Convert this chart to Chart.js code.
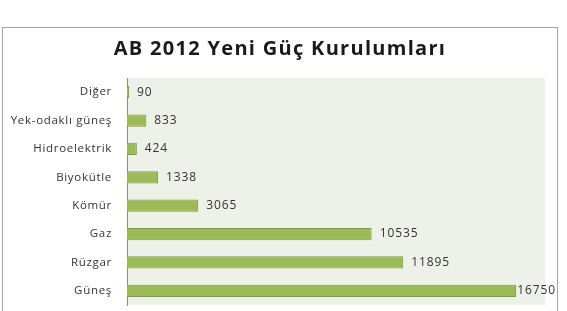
<!DOCTYPE html>
<html>
<head>
<meta charset="utf-8">
<script src="https://cdn.jsdelivr.net/npm/chart.js@4/dist/chart.umd.min.js"></script>
<style>
  html, body { margin: 0; padding: 0; background: #fff; }
  canvas { display: block; }
</style>
</head>
<body>
<canvas id="grafico" width="567" height="311"></canvas>
<script>
// dati
var categorie = ['Diğer', 'Yek-odaklı güneş', 'Hidroelektrik', 'Biyokütle', 'Kömür', 'Gaz', 'Rüzgar', 'Güneş'];
var valori = [90, 833, 424, 1338, 3065, 10535, 11895, 16750];
var titolo = 'AB 2012 Yeni Güç Kurulumları';
var massimo = 18000;

// cornice, sfondo e titolo
var sfondo = {
  id: 'sfondo',
  beforeDraw: function (chart) {
    var ctx = chart.ctx, a = chart.chartArea;
    ctx.save();
    ctx.fillStyle = '#ffffff';
    ctx.fillRect(0, 0, chart.width, chart.height);
    ctx.strokeStyle = '#a6a6a6';
    ctx.lineWidth = 1;
    ctx.strokeRect(2.5, 27.5, 555, 300);
    ctx.fillStyle = '#eef1e7';
    ctx.fillRect(a.left, a.top, a.right - a.left, a.bottom - a.top);
    ctx.fillStyle = '#1a1a1a';
    ctx.font = 'bold 20px "Open Sans"';
    ctx.letterSpacing = '1.3px';
    ctx.textAlign = 'center';
    ctx.textBaseline = 'alphabetic';
    ctx.fillText(titolo, 280, 55);
    ctx.restore();
    // spaziatura per le etichette dell'asse
    ctx.letterSpacing = '0.7px';
  }
};

// etichette valori
var etichette = {
  id: 'etichette',
  afterDatasetsDraw: function (chart) {
    var ctx = chart.ctx;
    var meta = chart.getDatasetMeta(0);
    ctx.save();
    ctx.font = '12px "Open Sans"';
    ctx.letterSpacing = '0.9px';
    ctx.fillStyle = '#333333';
    ctx.textBaseline = 'middle';
    ctx.textAlign = 'left';
    meta.data.forEach(function (bar, i) {
      var testo = String(valori[i]);
      var x = bar.x + 8;
      var w = ctx.measureText(testo).width;
      if (x + w > 556) x = 556 - w;
      ctx.fillText(testo, x, bar.y);
    });
    ctx.restore();
    ctx.letterSpacing = '0px';
  }
};

var chart = new Chart(document.getElementById('grafico'), {
  type: 'bar',
  data: {
    labels: categorie,
    datasets: [{
      data: valori,
      backgroundColor: '#9bbb59',
      borderColor: '#7e9c44',
      borderWidth: 1,
      categoryPercentage: 1,
      barPercentage: 0.43
    }]
  },
  options: {
    indexAxis: 'y',
    responsive: false,
    animation: false,
    layout: { padding: { left: 0, right: 22, top: 78, bottom: 6 } },
    plugins: {
      legend: { display: false },
      title: { display: false },
      tooltip: { enabled: false }
    },
    scales: {
      x: {
        display: false,
        min: 0,
        max: massimo
      },
      y: {
        grid: { display: false, drawTicks: false },
        border: { display: true, color: '#8c8c8c', width: 1 },
        ticks: {
          padding: 15,
          color: '#333333',
          font: { family: 'Open Sans', size: 11.5 }
        },
        afterFit: function (scale) {
          scale.width = 127;
          scale.paddingTop = 0;
          scale.paddingBottom = 0;
        }
      }
    }
  },
  plugins: [sfondo, etichette]
});
</script>
</body>
</html>
